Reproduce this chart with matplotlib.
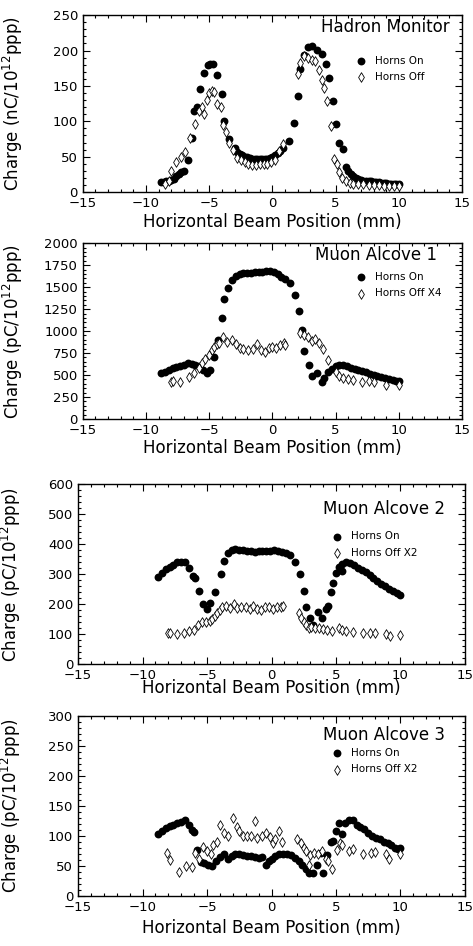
import numpy as np
import matplotlib
matplotlib.use("Agg")
import matplotlib.pyplot as plt
from matplotlib.ticker import MultipleLocator

# Hadron Monitor
hm_on_x = [-8.8, -8.6, -8.4, -8.2, -8.0, -7.8, -7.6, -7.4, -7.2, -7.0,
           -6.7, -6.4, -6.2, -6.0, -5.7, -5.4, -5.1, -4.9, -4.7, -4.4, -4.0, -3.8, -3.4, -3.0,
           -2.8, -2.6, -2.4, -2.2, -2.0, -1.8, -1.6, -1.4, -1.2, -1.0, -0.8, -0.6, -0.4, -0.2, 0.0, 0.2, 0.4, 0.6, 0.8,
           1.3, 1.7, 2.0, 2.2, 2.5, 2.8, 3.1, 3.5, 3.9, 4.2, 4.5, 4.8, 5.0, 5.3, 5.6,
           5.8, 6.0, 6.2, 6.4, 6.6, 6.8, 7.0, 7.2, 7.4, 7.6, 7.8, 8.0, 8.2, 8.4, 8.6, 8.8, 9.0, 9.2, 9.4, 9.6, 9.8, 10.0]
hm_on_y = [14, 14, 15, 16, 17, 19, 22, 25, 28, 30,
           45, 76, 115, 120, 146, 168, 180, 181, 181, 166, 139, 100, 75, 62,
           57, 54, 52, 50, 49, 48, 47, 47, 46, 46, 46, 46, 47, 48, 50, 52, 55, 58, 62,
           72, 98, 136, 174, 193, 205, 207, 201, 195, 181, 161, 128, 96, 70, 61,
           36, 30, 26, 23, 20, 18, 17, 16, 16, 15, 15, 14, 14, 14, 13, 13, 13, 12, 12, 12, 12, 11]
hm_off_x = [-8.5, -8.2, -8.0, -7.6, -7.2, -6.9, -6.5, -6.1, -5.8, -5.6,
            -5.4, -5.2, -5.0, -4.8, -4.6, -4.4, -4.1, -3.9, -3.7, -3.4,
            -3.1, -2.8, -2.5, -2.2, -1.9, -1.6, -1.3, -1.0, -0.7, -0.4,
            -0.1, 0.2, 0.5, 0.8, 2.0, 2.2, 2.5, 2.8, 3.1, 3.4,
            3.7, 3.9, 4.1, 4.3, 4.6, 4.9, 5.1, 5.3, 5.5, 5.8,
            6.1, 6.4, 6.8, 7.2, 7.6, 8.0, 8.4, 8.8, 9.2, 9.6, 10.0]
hm_off_y = [12, 15, 30, 43, 50, 57, 76, 96, 115, 120,
            110, 130, 140, 143, 142, 125, 120, 95, 85, 70,
            60, 48, 45, 42, 40, 38, 38, 39, 40, 40,
            42, 45, 58, 68, 167, 182, 192, 190, 186, 185,
            172, 158, 147, 128, 93, 47, 40, 28, 20, 15,
            13, 12, 11, 11, 10, 10, 10, 9, 9, 9, 9]

# Muon Alcove 1
ma1_on_x = [-8.8, -8.5, -8.2, -7.9, -7.6, -7.3, -7.0, -6.7, -6.4, -6.1, -5.8, -5.5, -5.2, -4.9, -4.6, -4.3,
            -4.0, -3.8, -3.5, -3.2, -2.9, -2.6, -2.3, -2.0, -1.7, -1.4, -1.1, -0.8, -0.5, -0.2, 0.1, 0.4,
            0.7, 1.0, 1.4, 1.8, 2.1, 2.3, 2.5, 2.9, 3.1, 3.5, 3.9, 4.1, 4.4, 4.7, 5.0, 5.3, 5.6, 5.9,
            6.2, 6.5, 6.8, 7.1, 7.4, 7.7, 8.0, 8.3, 8.6, 8.9, 9.2, 9.5, 9.8, 10.0]
ma1_on_y = [520, 540, 560, 575, 590, 605, 620, 635, 630, 620, 600, 560, 520, 560, 700, 900,
            1150, 1370, 1490, 1580, 1630, 1650, 1660, 1655, 1665, 1670, 1670, 1675, 1685, 1680, 1670, 1650,
            1620, 1590, 1550, 1410, 1230, 1010, 770, 610, 490, 520, 420, 470, 530, 570, 600, 610, 615, 600,
            585, 570, 560, 545, 530, 515, 500, 490, 475, 465, 455, 445, 435, 430]
ma1_off_x = [-8.0, -7.9, -7.3, -6.6, -6.2, -5.8, -5.6, -5.3, -5.0, -4.8, -4.6, -4.4, -4.2, -3.9, -3.6, -3.2,
             -2.9, -2.6, -2.3, -1.9, -1.5, -1.2, -0.9, -0.6, -0.3, 0.0, 0.3, 0.6, 0.9, 1.0,
             2.2, 2.5, 2.8, 3.1, 3.4, 3.7, 4.0, 4.4, 5.0, 5.3, 5.6, 6.0, 6.4, 7.1, 7.6, 8.0, 9.0, 10.0]
ma1_off_y = [420, 430, 420, 480, 520, 580, 640, 680, 730, 780, 820, 850, 870, 930, 880, 900,
             850, 810, 800, 790, 800, 850, 790, 760, 810, 820, 810, 840, 860, 840,
             980, 960, 930, 890, 910, 870, 800, 670, 540, 490, 470, 450, 440, 420, 430, 420, 390, 390]

# Muon Alcove 2
ma2_on_x = [-8.8, -8.5, -8.2, -7.9, -7.6, -7.3, -7.0, -6.7, -6.4, -6.1, -5.9, -5.6, -5.3, -5.0, -4.8, -4.4,
            -3.9, -3.7, -3.4, -3.1, -2.8, -2.5, -2.2, -1.9, -1.6, -1.3, -1.0, -0.7, -0.4, -0.1, 0.2, 0.5,
            0.8, 1.1, 1.4, 1.8, 2.2, 2.5, 2.7, 3.0, 3.2, 3.6, 3.9, 4.2, 4.4, 4.6, 4.8, 5.0, 5.2, 5.5,
            5.5, 5.8, 6.1, 6.4, 6.7, 7.0, 7.3, 7.6, 7.9, 8.2, 8.5, 8.8, 9.1, 9.4, 9.7, 10.0]
ma2_on_y = [292, 305, 318, 325, 330, 340, 342, 340, 320, 295, 288, 245, 200, 185, 205, 240,
            300, 345, 370, 380, 383, 382, 380, 378, 376, 375, 376, 376, 376, 378, 380, 376,
            375, 372, 365, 342, 300, 245, 192, 155, 130, 175, 155, 185, 195, 240, 270, 305, 325, 335,
            312, 340, 337, 330, 322, 315, 306, 297, 288, 278, 268, 260, 252, 245, 238, 230]
ma2_off_x = [-8.0, -7.9, -7.3, -6.8, -6.4, -6.0, -5.7, -5.4, -5.1, -4.8, -4.6, -4.4, -4.2, -4.0, -3.8, -3.5,
             -3.2, -2.9, -2.7, -2.4, -2.0, -1.7, -1.4, -1.1, -0.8, -0.5, -0.2, 0.1, 0.4, 0.7, 0.9,
             2.1, 2.3, 2.5, 2.7, 2.9, 3.1, 3.4, 3.7, 4.0, 4.3, 4.7, 5.2, 5.5, 5.8, 6.3, 7.1, 7.6, 8.0,
             8.9, 9.2, 10.0]
ma2_off_y = [103, 105, 100, 105, 110, 115, 130, 140, 140, 145, 150, 160, 170, 180, 192, 195,
             188, 200, 188, 190, 190, 185, 195, 185, 180, 190, 190, 185, 190, 192, 195,
             170, 155, 140, 130, 120, 125, 120, 120, 118, 115, 110, 120, 115, 110, 108, 105, 103, 103,
             100, 95, 98]

# Muon Alcove 3
ma3_on_x = [-8.8, -8.5, -8.2, -7.9, -7.6, -7.3, -7.0, -6.7, -6.4, -6.2, -6.0, -5.8, -5.5, -5.2, -4.9, -4.6,
            -4.3, -4.0, -3.7, -3.4, -3.1, -2.8, -2.5, -2.2, -1.9, -1.6, -1.3, -1.0, -0.7, -0.4, -0.2, 0.0,
            0.3, 0.6, 0.9, 1.2, 1.5, 1.8, 2.1, 2.4, 2.7, 2.9, 3.2, 3.5, 3.8, 4.0, 4.3, 4.6, 4.8, 5.0,
            5.2, 5.5, 5.7, 6.0, 6.3, 6.6, 6.9, 7.2, 7.5, 7.8, 8.1, 8.4, 8.7, 9.0, 9.3, 9.6, 9.8, 10.0]
ma3_on_y = [103, 108, 113, 116, 119, 121, 123, 126, 118, 110, 106, 76, 56, 55, 52, 50,
            58, 65, 70, 62, 66, 70, 70, 68, 67, 66, 65, 64, 65, 52, 58, 62,
            67, 70, 70, 70, 68, 63, 58, 52, 45, 38, 38, 52, 72, 38, 68, 90, 92, 108,
            122, 103, 122, 126, 127, 118, 115, 112, 105, 100, 97, 95, 90, 88, 85, 80, 78, 80]
ma3_off_x = [-8.1, -7.9, -7.2, -6.6, -6.2, -5.9, -5.6, -5.3, -5.0, -4.7, -4.5, -4.2, -4.0, -3.7, -3.4, -3.0,
             -2.7, -2.5, -2.2, -1.9, -1.6, -1.3, -1.1, -0.7, -0.4, -0.1, 0.1, 0.3, 0.6, 0.8,
             2.0, 2.3, 2.5, 2.7, 2.9, 3.0, 3.3, 3.6, 3.9, 4.2, 4.4, 4.7, 5.1, 5.3, 5.5, 6.0, 6.3,
             7.1, 7.7, 8.0, 8.9, 9.1, 10.0]
ma3_off_y = [72, 60, 40, 50, 48, 72, 62, 82, 75, 70, 85, 90, 118, 105, 100, 130,
             115, 108, 100, 100, 100, 125, 96, 100, 105, 98, 88, 95, 108, 90,
             95, 88, 80, 75, 52, 68, 72, 70, 75, 62, 58, 45, 77, 88, 85, 75, 78,
             70, 72, 74, 70, 62, 70]

titles = ["Hadron Monitor", "Muon Alcove 1", "Muon Alcove 2", "Muon Alcove 3"]
off_labels = ["Horns Off", "Horns Off X4", "Horns Off X2", "Horns Off X2"]
ylabels = ["Charge (nC/10$^{12}$ppp)", "Charge (pC/10$^{12}$ppp)",
           "Charge (pC/10$^{12}$ppp)", "Charge (pC/10$^{12}$ppp)"]
ymax = [250, 2000, 600, 300]
ystep = [50, 250, 100, 50]

on_x = [hm_on_x, ma1_on_x, ma2_on_x, ma3_on_x]
on_y = [hm_on_y, ma1_on_y, ma2_on_y, ma3_on_y]
off_x = [hm_off_x, ma1_off_x, ma2_off_x, ma3_off_x]
off_y = [hm_off_y, ma1_off_y, ma2_off_y, ma3_off_y]

# axes rectangles (figure fractions) and text placement per panel
rects = [[0.175, 0.797, 0.802, 0.187],
         [0.175, 0.557, 0.802, 0.186],
         [0.165, 0.298, 0.818, 0.190],
         [0.165, 0.053, 0.818, 0.190]]
title_pos = [(0.968, 0.932), (0.934, 0.932), (0.948, 0.861), (0.948, 0.894)]
leg_pos = [(0.72, 0.77), (0.72, 0.835), (0.656, 0.739), (0.656, 0.822)]
ylab_x = [-0.153, -0.153, -0.142, -0.142]
xlab_off = [30, 29, 24, 32]

fig = plt.figure(figsize=(4.73, 9.46), dpi=100)

for i in range(4):
    ax = fig.add_axes(rects[i])
    ax.scatter(on_x[i], on_y[i], s=32, marker="o", color="black", linewidths=0,
               label="Horns On", zorder=2)
    ax.scatter(off_x[i], off_y[i], s=24, marker="d", facecolors="white", edgecolors="black",
               linewidths=0.6, label=off_labels[i], zorder=3)
    ax.set_xlim(-15, 15)
    ax.set_ylim(0, ymax[i])
    ax.xaxis.set_major_locator(MultipleLocator(5))
    ax.xaxis.set_minor_locator(MultipleLocator(1))
    ax.yaxis.set_major_locator(MultipleLocator(ystep[i]))
    ax.yaxis.set_minor_locator(MultipleLocator(ystep[i] / 5))
    ax.tick_params(which="both", direction="in", top=True, right=True, width=0.8)
    ax.tick_params(which="major", length=5, labelsize=9.5)
    ax.tick_params(which="minor", length=2.5)
    for sp in ax.spines.values():
        sp.set_linewidth(1.0)

    ax.set_ylabel(ylabels[i], fontsize=12)
    ax.yaxis.set_label_coords(ylab_x[i], 0.5)
    ax.set_xlabel("Horizontal Beam Position (mm)", fontsize=12)
    h = rects[i][3] * 946
    ax.xaxis.set_label_coords(0.5, -xlab_off[i] / h)
    ax.xaxis.label.set_va("center")

    ax.text(title_pos[i][0], title_pos[i][1], titles[i], transform=ax.transAxes,
            ha="right", va="center", fontsize=12)
    ax.legend(loc="upper left", bbox_to_anchor=leg_pos[i], frameon=False, fontsize=7.5,
              handlelength=1.0, handletextpad=0.8, borderpad=0, borderaxespad=0,
              labelspacing=0.6, scatterpoints=1)

fig.savefig("out.png", dpi=100)
